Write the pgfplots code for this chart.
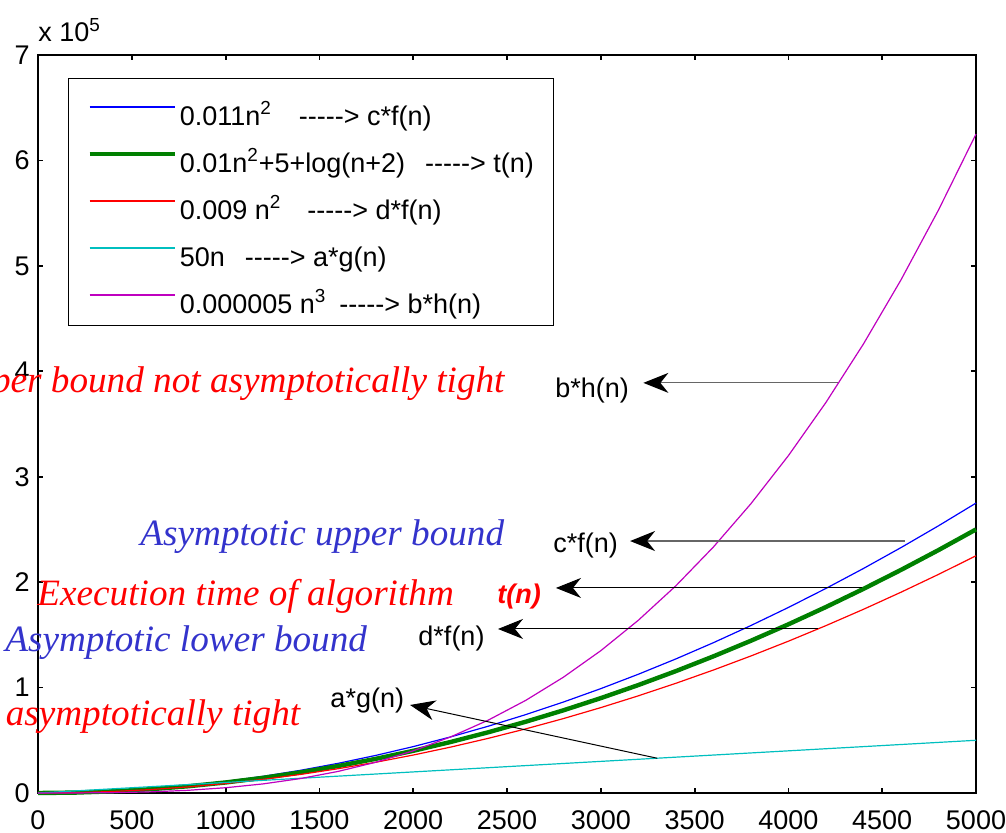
\documentclass[border=0pt]{standalone}
\usepackage{pgfplots}
\pgfplotsset{compat=1.18}
\usepackage{pgfplotstable}
\usepackage{fontspec}
\setmainfont{Liberation Sans}
\newfontfamily\timesfont{Liberation Serif}
\usetikzlibrary{arrows.meta}

\definecolor{mblue}{rgb}{0,0,1}
\definecolor{mgreen}{rgb}{0,0.5,0}
\definecolor{mred}{rgb}{1,0,0}
\definecolor{mcyan}{rgb}{0,0.75,0.75}
\definecolor{mmag}{rgb}{0.75,0,0.75}
\definecolor{tblue}{rgb}{0.2,0.2,0.8}

\pgfplotstableread{
n    cf      t      df      ag    bh
0    0       0      0       0     0
200  0.0044  0.004  0.0036  0.02  0.0004
400  0.0176  0.016  0.0144  0.04  0.0032
600  0.0396  0.036  0.0324  0.06  0.0108
800  0.0704  0.064  0.0576  0.08  0.0256
1000 0.11    0.1    0.09    0.10  0.05
1200 0.1584  0.144  0.1296  0.12  0.0864
1400 0.2156  0.196  0.1764  0.14  0.1372
1600 0.2816  0.256  0.2304  0.16  0.2048
1800 0.3564  0.324  0.2916  0.18  0.2916
2000 0.44    0.4    0.36    0.20  0.4
2200 0.5324  0.484  0.4356  0.22  0.5324
2400 0.6336  0.576  0.5184  0.24  0.6912
2600 0.7436  0.676  0.6084  0.26  0.8788
2800 0.8624  0.784  0.7056  0.28  1.0976
3000 0.99    0.9    0.81    0.30  1.35
3200 1.1264  1.024  0.9216  0.32  1.6384
3400 1.2716  1.156  1.0404  0.34  1.9652
3600 1.4256  1.296  1.1664  0.36  2.3328
3800 1.5884  1.444  1.2996  0.38  2.7436
4000 1.76    1.6    1.44    0.40  3.2
4200 1.9404  1.764  1.5876  0.42  3.7044
4400 2.1296  1.936  1.7424  0.44  4.2592
4600 2.3276  2.116  1.9044  0.46  4.8668
4800 2.5344  2.304  2.0736  0.48  5.5296
5000 2.75    2.5    2.25    0.50  6.25
}\data

\tikzset{mhead/.style={-{Stealth[length=12.5pt, width=10pt, inset=4pt, black]}}}

\begin{document}
\begin{tikzpicture}
\begin{axis}[
  scale only axis,
  width=469pt, height=369pt,
  xmin=0, xmax=5000, ymin=0, ymax=7,
  xtick={0,500,...,5000},
  ytick={0,1,...,7},
  scaled ticks=false,
  clip=false,
  axis line style={line width=0.6pt},
  tick align=inside,
  tick pos=both,
  major tick length=2.5pt,
  major tick style={line width=0.9pt, black},
  tick label style={font=\fontsize{13.5}{16}\selectfont},
  /pgf/number format/assume math mode=true,
  /pgf/number format/set thousands separator={},
  xticklabel style={inner sep=0pt},
  yticklabel style={inner sep=0pt},
  xticklabel shift=8.5pt,
  yticklabel shift=4pt,
  legend cell align=left,
  legend image code/.code={\path[#1] (0pt,0.3pt) -- (42.5pt,0.3pt);},
  legend style={
    at={(0.032,0.969)}, anchor=north west,
    font=\fontsize{13.5}{16}\selectfont,
    inner xsep=9.5pt, inner ysep=4pt,
    row sep=2pt,
    nodes={inner sep=0pt, text height=19.5pt, text depth=2pt},
    /tikz/every odd column/.append style={column sep=1.5pt},
  },
]
\addplot[draw=mblue, line width=0.6pt, legend image post style={line width=1pt}] table[x=n, y=cf] {\data};
\addlegendentry{0.011n\textsuperscript{2}\hspace{13.5pt}-{}-{}-{}-{}-> c*f(n)}
\addplot[draw=mgreen, line width=2.2pt] table[x=n, y=t] {\data};
\addlegendentry{0.01n\textsuperscript{2}+5+log(n+2)\hspace{10pt}-{}-{}-{}-{}-> t(n)}
\addplot[draw=mred, line width=0.6pt, legend image post style={line width=1pt}] table[x=n, y=df] {\data};
\addlegendentry{0.009 n\textsuperscript{2}\hspace{13pt}-{}-{}-{}-{}-> d*f(n)}
\addplot[draw=mcyan, line width=0.6pt, legend image post style={line width=1pt}] table[x=n, y=ag] {\data};
\addlegendentry{50n\hspace{10pt}-{}-{}-{}-{}-> a*g(n)}
\addplot[draw=mmag, line width=0.6pt, legend image post style={line width=1pt}] table[x=n, y=bh] {\data};
\addlegendentry{0.000005 n\textsuperscript{3}\hspace{6.5pt}-{}-{}-{}-{}-> b*h(n)}

% corner coordinates
\coordinate (sw) at (rel axis cs:0,0);
\coordinate (ne) at (rel axis cs:1,1);

% exponent label
\node[anchor=base west, inner sep=0pt, font=\fontsize{13.5}{16}\selectfont] at ([yshift=6.5pt]rel axis cs:0,1) {x 10\textsuperscript{5}};

% italic texts
\node[anchor=base east, inner sep=0pt, text=mred, font=\timesfont\itshape\fontsize{18.6}{22}\selectfont] at (axis cs:2489,3.80) {Upper bound not asymptotically tight};
\node[anchor=base west, inner sep=0pt, text=tblue, font=\timesfont\itshape\fontsize{18.6}{22}\selectfont] at (axis cs:544,2.35) {Asymptotic upper bound};
\node[anchor=base west, inner sep=0pt, text=mred, font=\timesfont\itshape\fontsize{18.6}{22}\selectfont] at (axis cs:-5,1.78) {Execution time of algorithm};
\node[anchor=base west, inner sep=0pt, text=tblue, font=\timesfont\itshape\fontsize{18.6}{22}\selectfont] at (axis cs:-176,1.34) {Asymptotic lower bound};
\node[anchor=base east, inner sep=0pt, text=mred, font=\timesfont\itshape\fontsize{18.6}{22}\selectfont] at (axis cs:1400,0.64) {Lower bound not asymptotically tight};

% labels
\node[anchor=base west, inner sep=0pt, font=\fontsize{13.5}{16}\selectfont] at (axis cs:2756,3.75) {b*h(n)};
\node[anchor=base west, inner sep=0pt, font=\fontsize{13.5}{16}\selectfont] at (axis cs:2745,2.28) {c*f(n)};
\node[anchor=base west, inner sep=0pt, text=mred, font=\bfseries\itshape\fontsize{13.5}{16}\selectfont] at (axis cs:2447,1.80) {t(n)};
\node[anchor=base west, inner sep=0pt, font=\fontsize{13.5}{16}\selectfont] at (axis cs:2026,1.40) {d*f(n)};
\node[anchor=base west, inner sep=0pt, font=\fontsize{13.5}{16}\selectfont] at (axis cs:1557,0.81) {a*g(n)};

% arrows
\draw[black!60, line width=0.6pt, mhead] (axis cs:4264,3.89) -- (axis cs:3227,3.89);
\draw[black!60, line width=0.6pt, mhead] (axis cs:4622,2.39) -- (axis cs:3156,2.39);
\draw[black, line width=0.5pt, mhead] (axis cs:4392,1.945) -- (axis cs:2761,1.945);
\draw[black, line width=0.5pt, mhead] (axis cs:4158,1.556) -- (axis cs:2452,1.556);
\draw[black, line width=0.5pt, mhead] (axis cs:3300,0.33) -- (axis cs:1983,0.835);
\end{axis}
\pgfresetboundingbox
\path[use as bounding box] ([xshift=-19pt,yshift=-19.5pt]sw) rectangle ([xshift=15pt,yshift=27.5pt]ne);
\end{tikzpicture}
\end{document}
